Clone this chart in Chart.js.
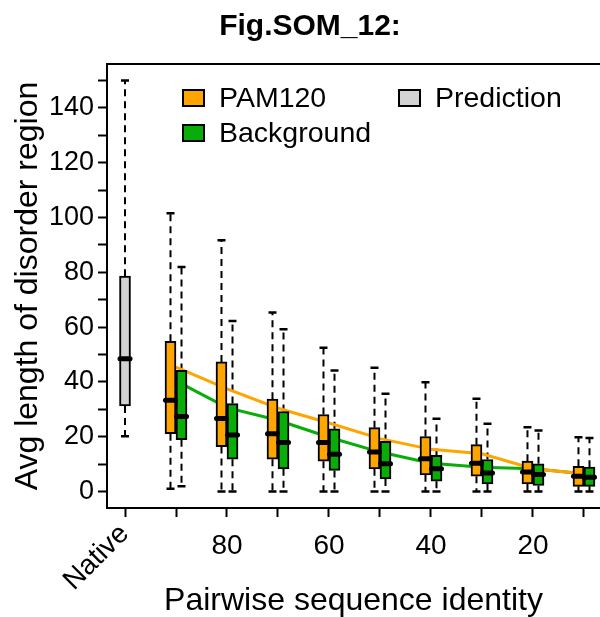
<!DOCTYPE html>
<html>
<head>
<meta charset="utf-8">
<title>Fig.SOM_12</title>
<script src="https://cdn.jsdelivr.net/npm/chart.js@4.4.1/dist/chart.umd.min.js"></script>
<style>
  html, body { margin: 0; padding: 0; background: #fff; }
  #wrap { width: 600px; height: 617px; }
</style>
</head>
<body>
<div id="wrap"><canvas id="chart" width="600" height="617"></canvas></div>
<script>
// ==== Data ====
const IDENTITY = ["Native", "90", "80", "70", "60", "50", "40", "30", "20", "10"];
const SHOWN_X_LABELS = ["80", "60", "40", "20"];
const Y_TICKS = [0, 10, 20, 30, 40, 50, 60, 70, 80, 90, 100, 110, 120, 130, 140, 150];
const Y_LABELS = [0, 20, 40, 60, 80, 100, 120, 140];

// Prediction on the native sequences: [lower whisker, q1, median, q3, upper whisker]
const PRED_BOX = [20.2, 31.2, 48.5, 78.6, 150];

// PAM120, identity 90 -> 10
const PAM_LO   = [1.0, 0, 0, 0, 0, 0, 0, 0, 0];
const PAM_Q1   = [21.1, 16.4, 11.8, 11.1, 8.3, 6.1, 5.6, 2.8, 1.9];
const PAM_MED  = [33.3, 26.7, 21.1, 17.9, 14.4, 12.0, 10.3, 7.1, 5.6];
const PAM_Q3   = [54.8, 47.3, 33.7, 28.1, 23.3, 20.1, 17.1, 11.1, 9.2];
const PAM_HI   = [101.5, 91.7, 65.3, 52.5, 45.2, 39.9, 33.9, 23.5, 19.8];
const PAM_MEAN = [45.4, 37.5, 30.4, 25.0, 19.3, 15.4, 13.8, 8.3, 6.5];

// Background, identity 90 -> 10
const BG_LO   = [1.9, 0, 0, 0, 0, 0, 0, 0, 0];
const BG_Q1   = [18.9, 11.8, 8.3, 7.7, 4.6, 3.8, 2.8, 2.2, 1.9];
const BG_MED  = [27.4, 20.6, 17.9, 13.6, 10.1, 8.3, 6.8, 6.2, 5.2];
const BG_Q3   = [44.2, 32.1, 29.2, 22.9, 18.3, 13.2, 11.7, 10.1, 8.9];
const BG_HI   = [81.9, 62.2, 59.2, 44.2, 35.7, 26.6, 24.7, 22.3, 19.5];
const BG_MEAN = [40.4, 30.6, 26.0, 19.8, 14.4, 10.3, 8.9, 8.3, 6.5];

// ==== Styles ====
const FONT = '"Liberation Sans", Arial, Helvetica, sans-serif';
const ORANGE = "#FFA500";
const GREEN = "#08AD08";
const GRAY = "#D3D3D3";
const SHIFT = 0.108;      // half-step between the paired boxes (x units)
const BOX_PX = 11;        // box width in pixels

Chart.defaults.font.family = FONT;
Chart.defaults.color = "#000";

// box summary list used by the whisker/median plugin
const boxes = [];
boxes.push({ x: 0, lo: PRED_BOX[0], q1: PRED_BOX[1], med: PRED_BOX[2], q3: PRED_BOX[3], hi: PRED_BOX[4] });
PAM_Q1.forEach((q1, k) => {
  boxes.push({ x: k + 1 - SHIFT, lo: PAM_LO[k], q1, med: PAM_MED[k], q3: PAM_Q3[k], hi: PAM_HI[k] });
  boxes.push({ x: k + 1 + SHIFT, lo: BG_LO[k], q1: BG_Q1[k], med: BG_MED[k], q3: BG_Q3[k], hi: BG_HI[k] });
});

// ==== Plugin: whiskers, medians, frame, legend, title ====
const boxParts = {
  id: "boxParts",
  beforeDatasetsDraw(chart) {
    const { ctx } = chart;
    const xs = chart.scales.x, ys = chart.scales.y;
    ctx.save();
    ctx.strokeStyle = "#000";
    boxes.forEach(b => {
      const px = xs.getPixelForValue(b.x);
      ctx.lineWidth = 2;
      ctx.setLineDash([7, 5]);
      ctx.beginPath();
      ctx.moveTo(px, ys.getPixelForValue(b.q3));
      ctx.lineTo(px, ys.getPixelForValue(b.hi));
      ctx.moveTo(px, ys.getPixelForValue(b.q1));
      ctx.lineTo(px, ys.getPixelForValue(b.lo));
      ctx.stroke();
      // staples
      ctx.setLineDash([]);
      ctx.lineWidth = 2.5;
      ctx.beginPath();
      ctx.moveTo(px - 4, ys.getPixelForValue(b.hi));
      ctx.lineTo(px + 4, ys.getPixelForValue(b.hi));
      ctx.moveTo(px - 4, ys.getPixelForValue(b.lo));
      ctx.lineTo(px + 4, ys.getPixelForValue(b.lo));
      ctx.stroke();
    });
    ctx.restore();
  },
  afterDatasetsDraw(chart) {
    const { ctx } = chart;
    const xs = chart.scales.x, ys = chart.scales.y;
    ctx.save();
    ctx.strokeStyle = "#000";
    ctx.lineWidth = 5;
    ctx.lineCap = "round";
    boxes.forEach(b => {
      const px = xs.getPixelForValue(b.x);
      const py = ys.getPixelForValue(b.med);
      ctx.beginPath();
      ctx.moveTo(px - BOX_PX / 2 + 0.5, py);
      ctx.lineTo(px + BOX_PX / 2 - 0.5, py);
      ctx.stroke();
    });
    ctx.restore();
  },
  afterDraw(chart) {
    const { ctx, chartArea } = chart;
    const xs = chart.scales.x;
    ctx.save();
    // top edge of the frame
    ctx.strokeStyle = "#000";
    ctx.lineWidth = 2;
    ctx.beginPath();
    ctx.moveTo(chartArea.left - 1, chartArea.top);
    ctx.lineTo(chartArea.right, chartArea.top);
    ctx.stroke();

    // legend
    const keys = [
      { text: "PAM120", color: ORANGE, x: 183, y: 98 },
      { text: "Background", color: GREEN, x: 183, y: 133 },
      { text: "Prediction", color: GRAY, x: 399, y: 98 }
    ];
    ctx.font = "28.5px " + FONT;
    ctx.textBaseline = "middle";
    ctx.textAlign = "left";
    keys.forEach(k => {
      ctx.fillStyle = k.color;
      ctx.fillRect(k.x, k.y - 8, 21, 16);
      ctx.strokeRect(k.x, k.y - 8, 21, 16);
      ctx.fillStyle = "#000";
      ctx.fillText(k.text, k.x + 36, k.y + 1);
    });

    // title
    ctx.font = "bold 30px " + FONT;
    ctx.textAlign = "center";
    ctx.textBaseline = "alphabetic";
    ctx.fillText("Fig.SOM_12:", 310, 35);

    // rotated label for the native column
    ctx.font = "28px " + FONT;
    ctx.translate(xs.getPixelForValue(0) + 5, chartArea.bottom + 27);
    ctx.rotate(-Math.PI / 4);
    ctx.textAlign = "right";
    ctx.fillText(IDENTITY[0], 0, 0);
    ctx.restore();
  }
};

// ==== Chart ====
const barStyle = { borderColor: "#000", borderWidth: 2, borderSkipped: false, barThickness: BOX_PX, grouped: false, order: 1 };

new Chart(document.getElementById("chart"), {
  type: "bar",
  data: {
    datasets: [
      { type: "line", label: "PAM120 mean", data: PAM_MEAN.map((v, k) => ({ x: k + 1, y: v })),
        borderColor: ORANGE, borderWidth: 3, pointRadius: 0, tension: 0, order: 3 },
      { type: "line", label: "Background mean", data: BG_MEAN.map((v, k) => ({ x: k + 1, y: v })),
        borderColor: GREEN, borderWidth: 3, pointRadius: 0, tension: 0, order: 3 },
      { label: "Prediction", data: [{ x: 0, y: [PRED_BOX[1], PRED_BOX[3]] }], backgroundColor: GRAY, ...barStyle },
      { label: "PAM120", data: PAM_Q1.map((q1, k) => ({ x: k + 1 - SHIFT, y: [q1, PAM_Q3[k]] })), backgroundColor: ORANGE, ...barStyle },
      { label: "Background", data: BG_Q1.map((q1, k) => ({ x: k + 1 + SHIFT, y: [q1, BG_Q3[k]] })), backgroundColor: GREEN, ...barStyle }
    ]
  },
  options: {
    responsive: false,
    animation: false,
    layout: { padding: { top: 64, right: 0, left: 0, bottom: 0 } },
    plugins: { legend: { display: false }, tooltip: { enabled: false } },
    scales: {
      x: {
        type: "linear",
        offset: false,
        min: -0.353,
        max: 9.314,
        afterBuildTicks: s => { s.ticks = IDENTITY.map((_, i) => ({ value: i })); },
        afterFit: s => { s.height = 109; },
        ticks: {
          autoSkip: false, maxRotation: 0, minRotation: 0, padding: 12,
          font: { size: 28 },
          callback: v => SHOWN_X_LABELS.includes(IDENTITY[v]) ? IDENTITY[v] : ""
        },
        grid: { offset: false, drawOnChartArea: false, tickLength: 9, tickWidth: 2, tickColor: "#000" },
        border: { display: true, color: "#000", width: 2 },
        title: { display: true, text: "Pairwise sequence identity", font: { size: 32, lineHeight: 1 }, padding: 0 }
      },
      y: {
        type: "linear",
        min: -6,
        max: 156,
        afterBuildTicks: s => { s.ticks = Y_TICKS.map(v => ({ value: v })); },
        afterFit: s => { s.width = 107; },
        ticks: {
          autoSkip: false, padding: 4,
          font: { size: 27 },
          callback: v => Y_LABELS.includes(v) ? String(v) : ""
        },
        grid: { drawOnChartArea: false, tickLength: 9, tickWidth: 2, tickColor: "#000" },
        border: { display: true, color: "#000", width: 2 },
        title: { display: true, text: "Avg length of disorder region", font: { size: 32 }, padding: { top: 9, bottom: 0 } }
      }
    }
  },
  plugins: [boxParts]
});
</script>
</body>
</html>
